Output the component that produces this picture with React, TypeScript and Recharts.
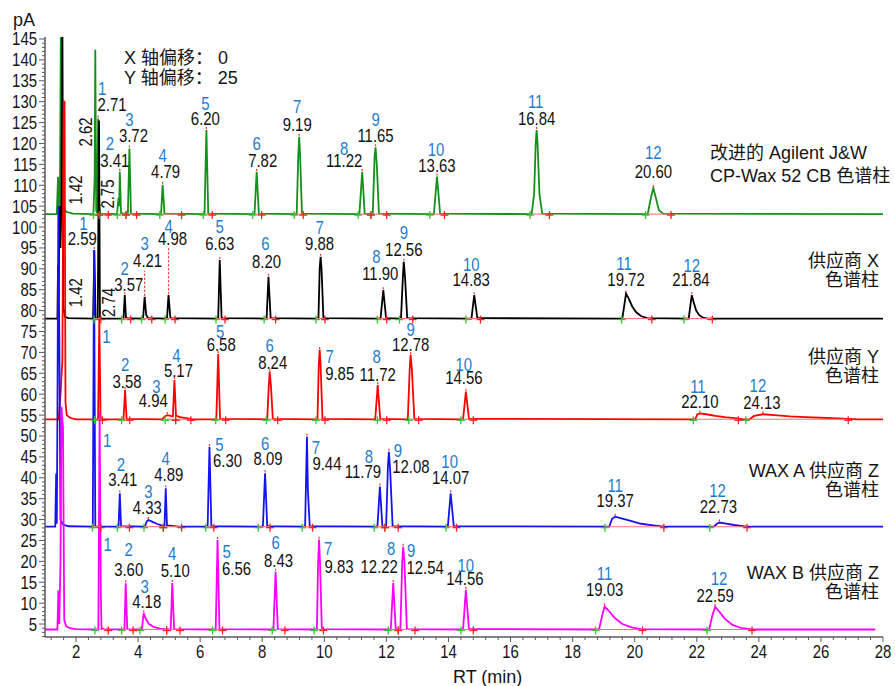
import React from 'react'
import {
  ComposedChart,
  Line,
  Scatter,
  XAxis,
  YAxis,
  ReferenceLine,
} from 'recharts'

// [retention time (min), signal (pA)]
type Pt = [number, number]
// [peak no, rt, text dx, text dy, number dx, number dy, stem px]
type Tag = [number, number, number | null, number | null, number, number, number?]
// [rt, dx, dy] rotated retention time labels
type VTag = [number, number, number]

const W = 895
const H = 686
const Y_OFFSET = 25
const FONT = "'Liberation Sans', Arial, 'Noto Sans CJK SC', sans-serif"
// narrow the Latin glyphs a little, the instrument font is condensed
const SX = 0.83
const AXIS = '#5a5a5a'
const NUM_BLUE = '#1f7ccc'

// ---- raw detector signal, one array per column ----

const agilentTrace: Pt[] = [
  [1.0, 3.1], [1.38, 3.1], [1.42, 12], [1.45, 4], [1.48, 6], [1.52, 60], [1.55, 10],
  [1.6, 4.5], [1.7, 3.6], [1.9, 3.2],
  [2.56, 3.1], [2.6, 12], [2.62, 42.4], [2.65, 4], [2.68, 3.3], [2.71, 26.0],
  [2.73, 5], [2.75, 5.5], [2.78, 3.2],
  [3.32, 3.1], [3.37, 7], [3.39, 5], [3.41, 13.2], [3.45, 3.3],
  [3.67, 3.1], [3.72, 18.8], [3.77, 3.2],
  [4.74, 3.1], [4.79, 10.1], [4.85, 3.2],
  [6.14, 3.1], [6.2, 23.2], [6.26, 3.2],
  [7.75, 3.1], [7.82, 13.2], [7.89, 3.2],
  [9.11, 3.1], [9.16, 17], [9.19, 21.6], [9.22, 17], [9.28, 3.2],
  [11.13, 3.1], [11.22, 13.2], [11.3, 3.2],
  [11.56, 3.1], [11.62, 17], [11.65, 19.1], [11.69, 15], [11.76, 3.2],
  [13.53, 3.1], [13.63, 12.1], [13.73, 3.2],
  [16.68, 3.1], [16.76, 8], [16.81, 20], [16.84, 23.2], [16.87, 20], [16.93, 8], [17.02, 3.2],
  [20.42, 3.1], [20.52, 7], [20.6, 9.3], [20.68, 7], [20.78, 4], [20.92, 3.2],
  [28.0, 3.1],
]

const vendorXTrace: Pt[] = [
  [1.0, 3.1], [1.4, 3.1], [1.42, 16], [1.44, 8], [1.47, 30], [1.5, 20], [1.53, 32],
  [1.56, 75], [1.59, 6], [1.64, 3.5], [1.75, 3.2],
  [2.55, 3.1], [2.59, 19.5], [2.63, 3.1],
  [2.7, 3.1], [2.74, 50.5], [2.77, 3.5], [2.8, 3.1],
  [3.53, 3.1], [3.57, 8.7], [3.61, 3.2],
  [4.16, 3.1], [4.21, 8.3], [4.26, 4], [4.32, 3.2],
  [4.93, 3.1], [4.98, 8.7], [5.04, 3.2],
  [6.58, 3.1], [6.63, 17.1], [6.69, 3.2],
  [8.14, 3.1], [8.2, 13.1], [8.27, 3.2],
  [9.81, 3.1], [9.85, 15], [9.88, 17.9], [9.91, 15], [9.97, 3.2],
  [11.81, 3.1], [11.9, 9.9], [11.99, 3.2],
  [12.47, 3.1], [12.53, 13], [12.56, 16.7], [12.6, 13], [12.67, 3.2],
  [14.74, 3.1], [14.83, 8.7], [14.93, 3.2],
  [19.6, 3.1], [19.66, 6], [19.72, 9.1], [19.8, 8], [19.92, 6], [20.05, 4.6], [20.2, 3.7], [20.4, 3.2],
  [21.74, 3.1], [21.79, 6], [21.84, 8.7], [21.9, 7], [21.98, 5], [22.08, 3.9], [22.2, 3.3], [22.35, 3.1],
  [28.0, 3.1],
]

const vendorYTrace: Pt[] = [
  [1.0, 4.0], [1.44, 4.0], [1.5, 10], [1.56, 18], [1.6, 80], [1.63, 80], [1.66, 8],
  [1.7, 5], [1.82, 4.3], [2.0, 4.0],
  [2.71, 4.0], [2.75, 28], [2.79, 4.3], [2.85, 4.0],
  [3.53, 4.0], [3.58, 11], [3.63, 4.1],
  [4.78, 4.0], [4.85, 4.6], [4.94, 5.0], [5.05, 4.8], [5.12, 4.7], [5.17, 13.4], [5.22, 4.9],
  [5.35, 4.5], [5.6, 4.2], [5.75, 4.0],
  [6.52, 4.0], [6.58, 19.6], [6.64, 4.1],
  [8.16, 4.0], [8.21, 12], [8.24, 15.4], [8.28, 12], [8.34, 4.1],
  [9.78, 4.0], [9.82, 17], [9.85, 20.6], [9.88, 17], [9.94, 4.1],
  [11.64, 4.0], [11.72, 12.2], [11.8, 4.1],
  [12.69, 4.0], [12.75, 16], [12.78, 19.4], [12.82, 16], [12.9, 4.1],
  [14.47, 4.0], [14.56, 10.6], [14.66, 4.1],
  [21.95, 4.0], [22.02, 5.2], [22.1, 5.4], [22.3, 5.2], [22.6, 4.8], [22.9, 4.5], [23.3, 4.2], [23.5, 4.0],
  [23.7, 4.0], [23.85, 4.8], [24.13, 5.2], [24.5, 5.0], [25.0, 4.7], [25.5, 4.5], [26.2, 4.3],
  [26.9, 4.1], [27.2, 4.0],
  [28.0, 4.0],
]

const waxATrace: Pt[] = [
  [1.0, 3.3], [1.33, 3.3], [1.36, 16], [1.38, 4], [1.4, 30], [1.43, 80], [1.47, 40],
  [1.5, 5], [1.58, 3.8], [1.75, 3.4],
  [2.54, 3.3], [2.58, 69.5], [2.62, 3.5], [2.66, 3.3],
  [3.37, 3.3], [3.41, 11.3], [3.45, 3.4],
  [4.22, 3.3], [4.28, 4.6], [4.33, 4.9], [4.45, 4.5], [4.6, 4.0], [4.75, 3.6], [4.84, 3.4],
  [4.85, 3.4], [4.89, 12.5], [4.93, 3.6], [5.1, 3.5], [5.3, 3.3],
  [6.24, 3.3], [6.3, 22.4], [6.36, 3.4],
  [8.02, 3.3], [8.09, 16.1], [8.16, 3.4],
  [9.38, 3.3], [9.41, 14], [9.44, 24.8], [9.47, 12], [9.53, 3.4],
  [11.71, 3.3], [11.79, 12.9], [11.87, 3.4],
  [11.99, 3.3], [12.05, 18], [12.08, 21.2], [12.12, 17], [12.2, 3.4],
  [13.98, 3.3], [14.07, 11.3], [14.17, 3.4],
  [19.18, 3.3], [19.27, 5.2], [19.37, 5.7], [19.6, 5.2], [19.9, 4.6], [20.2, 4.0], [20.6, 3.6], [20.95, 3.3],
  [22.55, 3.3], [22.65, 4.0], [22.73, 4.3], [22.9, 4.1], [23.2, 3.7], [23.6, 3.3],
  [28.0, 3.3],
]

const waxBTrace: Pt[] = [
  [1.0, 3.7], [1.4, 3.7], [1.43, 13], [1.46, 5], [1.5, 20], [1.53, 57], [1.58, 52],
  [1.62, 6], [1.68, 4.5], [1.8, 4.0], [2.0, 3.8],
  [2.72, 3.7], [2.76, 56], [2.8, 12], [2.82, 4.0], [2.9, 3.8],
  [3.56, 3.7], [3.6, 14.75], [3.65, 3.8],
  [4.12, 3.7], [4.18, 7.6], [4.25, 6.2], [4.35, 5.0], [4.5, 4.3], [4.7, 3.9], [4.9, 3.7],
  [5.05, 3.7], [5.1, 14.8], [5.16, 3.8],
  [6.5, 3.7], [6.56, 25.1], [6.62, 3.8],
  [8.36, 3.7], [8.43, 17.5], [8.5, 3.8],
  [9.76, 3.7], [9.8, 20], [9.83, 25.2], [9.86, 20], [9.92, 3.8],
  [12.14, 3.7], [12.22, 14.8], [12.3, 3.8],
  [12.45, 3.7], [12.51, 20], [12.54, 23.5], [12.58, 20], [12.66, 3.8],
  [14.47, 3.7], [14.56, 13.2], [14.66, 3.8],
  [18.85, 3.7], [18.95, 7], [19.03, 9.2], [19.15, 8.3], [19.35, 6.5], [19.6, 5.0], [19.9, 4.2], [20.2, 3.8],
  [22.4, 3.7], [22.5, 7], [22.59, 9.1], [22.7, 8.2], [22.9, 6.3], [23.15, 4.8], [23.45, 4.0], [23.8, 3.7],
  [27.75, 3.7],
]

// ---- integration start / end marks ----

const agilentMarks: Pt[] = [
  [2.56, 2.75], [2.75, 3.04], [3.33, 3.61], [3.61, 3.95], [4.7, 5.4], [6.1, 6.39],
  [7.69, 7.98], [9.03, 9.32], [11.09, 11.5], [11.5, 12.01], [13.4, 13.87],
  [16.63, 17.25], [20.35, 21.17],
]
const vendorXMarks: Pt[] = [
  [2.58, 2.8], [3.47, 3.76], [4.11, 4.44], [4.87, 5.19], [6.51, 6.8], [8.06, 8.43],
  [9.73, 10.02], [11.71, 12.01], [12.42, 12.85], [14.56, 15.03], [19.58, 20.55],
  [21.59, 22.5],
]
const vendorYMarks: Pt[] = [
  [2.6, 2.85], [3.47, 3.73], [4.87, 5.21], [5.21, 5.7], [6.5, 6.82], [8.13, 8.5],
  [9.73, 10.02], [11.71, 12.01], [12.72, 13.04], [14.4, 14.8], [21.89, 23.34],
  [23.58, 26.88],
]
const waxAMarks: Pt[] = [
  [2.53, 2.8], [3.33, 3.72], [4.19, 4.81], [4.81, 5.4], [6.18, 6.44], [7.87, 8.25],
  [9.29, 9.62], [11.61, 11.95], [11.95, 12.38], [13.92, 14.26], [19.04, 20.94],
  [22.42, 23.62],
]
const waxBMarks: Pt[] = [
  [2.61, 3.04], [3.47, 3.84], [4.06, 4.92], [4.92, 5.35], [6.4, 6.72], [8.32, 8.73],
  [9.67, 9.97], [12.06, 12.38], [12.38, 12.92], [14.4, 14.8], [18.74, 20.25],
  [22.33, 23.78],
]

// ---- peak labels ----

const agilentTags: Tag[] = [
  [1, 2.71, 14, -7, 4, -23], [2, 3.41, -5, -5, -10, -22], [3, 3.72, 4, -6, 0, -22],
  [4, 4.79, 3, -7, 0, -23], [5, 6.2, -1, -5, -1, -20], [6, 7.82, 6, -5, 0, -22],
  [7, 9.19, -2, -6, -2, -24], [8, 11.22, -18, -5, -18, -17], [9, 11.65, 0, -5, 0, -21],
  [10, 13.63, 0, -4, -1, -20], [11, 16.84, 0, -5, -1, -22], [12, 20.6, 0, -10, 0, -29],
]
const vendorXTags: Tag[] = [
  [1, 2.59, -12, -5, -11, -20], [2, 3.57, 4, -4, 0, -20], [3, 4.21, 3, -30, 0, -47, 26],
  [4, 4.98, 4, -50, 0, -62, 47], [5, 6.63, 0, -10, 0, -27], [6, 8.2, -2, -9, -3, -27],
  [7, 9.88, -1, -7, -1, -23], [8, 11.9, -3, -10, -7, -27], [9, 12.56, 0, -6, 0, -23],
  [10, 14.83, -3, -9, -3, -24], [11, 19.72, 0, -7, -2, -23], [12, 21.84, -1, -9, 0, -23],
]
const vendorYTags: Tag[] = [
  [1, 2.75, null, null, 7, 24, 0], [2, 3.58, 2, -2, 0, -19], [3, 4.94, -14, -8, -11, -22],
  [4, 5.17, 4, -3, 2, -18], [5, 6.58, 3, -3, 2, -16], [6, 8.24, 3, -3, 0, -20],
  [7, 9.85, 20, 30, 10, 13], [8, 11.72, 0, -4, -1, -22], [9, 12.78, 0, -4, 0, -19],
  [10, 14.56, -2, -8, -2, -21], [11, 22.1, 0, -5, -2, -20], [12, 24.13, -1, -5, -5, -22],
]
const waxATags: Tag[] = [
  [1, 2.58, null, null, 13, 197, 0], [2, 3.41, 3, -7, 1, -22], [3, 4.33, -1, -6, 0, -22],
  [4, 4.89, 3, -7, 0, -23], [5, 6.3, 18, 20, 10, 4], [6, 8.09, 3, -8, 0, -23],
  [7, 9.44, 20, 33, 9, 17], [8, 11.79, -17, -9, -11, -24], [9, 12.08, 22, 21, 9, 5],
  [10, 14.07, 0, -9, -1, -25], [11, 19.37, 0, -10, 0, -25], [12, 22.73, -1, -9, -2, -25],
]
const waxBTags: Tag[] = [
  [1, 2.76, null, null, 8, 140, 0], [2, 3.6, 3, -7, 3, -27], [3, 4.18, 3, -5, 1, -20],
  [4, 5.1, 3, -6, 0, -23], [5, 6.56, 19, 35, 9, 18], [6, 8.43, 3, -5, 0, -23],
  [7, 9.83, 20, 33, 9, 15], [8, 12.22, -14, -10, -2, -28], [9, 12.54, 22, 27, 8, 10],
  [10, 14.56, -1, -5, 0, -18], [11, 19.03, 0, -10, 0, -26], [12, 22.59, 0, -5, 4, -22],
]

const agilentVTags: VTag[] = [[1.42, 18, 13], [2.62, -9, 82], [2.75, 9, -10]]
const vendorXVTags: VTag[] = [[1.42, 18, 28], [2.74, 10, 182]]

// axis ticks
const yMajor = [5, 10, 15, 20, 25, 30, 35, 40, 45, 50, 55, 60, 65, 70, 75, 80, 85, 90, 95,
  100, 105, 110, 115, 120, 125, 130, 135, 140, 145]
const xMajor = [2, 4, 6, 8, 10, 12, 14, 16, 18, 20, 22, 24, 26, 28]

const yTicks: number[] = []
for (let v = 2; v <= 145; v++) yTicks.push(v)
const xTicks: number[] = []
for (let k = 12; k <= 280; k += 4) xTicks.push(k / 10)

interface Series {
  key: string
  color: string
  offset: number
  points: Pt[]
  tags: Tag[]
  vtags: VTag[]
  marks: Pt[]
}

const series: Series[] = [
  { key: 'agilent', color: '#14911a', offset: 4 * Y_OFFSET, points: agilentTrace, tags: agilentTags, vtags: agilentVTags, marks: agilentMarks },
  { key: 'vendorX', color: '#000000', offset: 3 * Y_OFFSET, points: vendorXTrace, tags: vendorXTags, vtags: vendorXVTags, marks: vendorXMarks },
  { key: 'vendorY', color: '#ff0000', offset: 2 * Y_OFFSET, points: vendorYTrace, tags: vendorYTags, vtags: [], marks: vendorYMarks },
  { key: 'waxA', color: '#1414f0', offset: 1 * Y_OFFSET, points: waxATrace, tags: waxATags, vtags: [], marks: waxAMarks },
  { key: 'waxB', color: '#ff00ff', offset: 0, points: waxBTrace, tags: waxBTags, vtags: [], marks: waxBMarks },
]

const apexOf = (points: Pt[], rt: number) => {
  const p = points.find(([t]) => Math.abs(t - rt) < 1e-9)
  return p ? p[1] : points[0][1]
}

// condensed svg text anchored at (x, y)
const Txt = ({
  x,
  y,
  anchor = 'middle',
  fill = '#111',
  rotate = 0,
  baseline,
  children,
}: {
  x: number
  y: number
  anchor?: 'start' | 'middle' | 'end'
  fill?: string
  rotate?: number
  baseline?: string
  children: React.ReactNode
}) => (
  <text
    transform={`translate(${x} ${y}) rotate(${rotate}) scale(${SX} 1)`}
    x={0}
    y={0}
    textAnchor={anchor}
    dominantBaseline={baseline as any}
    fontFamily={FONT}
    fontSize={18}
    fill={fill}
  >
    {children}
  </text>
)

const YTick = (props: any) => {
  const { x, y, payload } = props
  const major = yMajor.includes(payload.value)
  return (
    <g>
      <line x1={x - (major ? 6 : 3)} x2={x} y1={y} y2={y} stroke={AXIS} strokeWidth={1} />
      {major && (
        <Txt x={x - 8} y={y + 6.5} anchor='end' fill='#151515'>
          {payload.value}
        </Txt>
      )}
    </g>
  )
}

const XTick = (props: any) => {
  const { x, y, payload } = props
  const major = xMajor.some((m) => Math.abs(m - payload.value) < 1e-6)
  return (
    <g>
      <line x1={x} x2={x} y1={y} y2={y + (major ? 5 : 3)} stroke={AXIS} strokeWidth={1} />
      {major && (
        <Txt x={x} y={y + 21} fill='#151515'>
          {Math.round(payload.value)}
        </Txt>
      )}
    </g>
  )
}

const Cross = ({ cx, cy, color }: { cx: number; cy: number; color: string }) => (
  <g stroke={color} strokeWidth={1.3}>
    <line x1={cx - 4} x2={cx + 4} y1={cy + 1} y2={cy + 1} />
    <line x1={cx} x2={cx} y1={cy - 3} y2={cy + 5} />
  </g>
)

const PeakTag = (props: any) => {
  const { cx, cy, payload } = props
  const { no, rt, tdx, tdy, ndx, ndy, stem } = payload
  return (
    <g>
      {stem > 0 && (
        <line x1={cx} x2={cx} y1={cy - 1} y2={cy - stem} stroke='#ff3030' strokeWidth={1.2} strokeDasharray='2 2' />
      )}
      <Txt x={cx + ndx} y={cy + ndy} fill={NUM_BLUE}>
        {no}
      </Txt>
      {tdx !== null && (
        <Txt x={cx + tdx} y={cy + tdy}>
          {rt.toFixed(2)}
        </Txt>
      )}
    </g>
  )
}

const RotatedTag = (props: any) => {
  const { cx, cy, payload } = props
  return (
    <Txt x={cx + payload.dx} y={cy + payload.dy} rotate={-90} baseline='central'>
      {payload.rt.toFixed(2)}
    </Txt>
  )
}

const textStyle: React.CSSProperties = {
  position: 'absolute',
  fontFamily: FONT,
  fontSize: 18,
  color: '#151515',
  whiteSpace: 'nowrap',
}

export default function App() {
  return (
    <div style={{ position: 'absolute', left: 0, top: 0, width: W, height: H, background: '#fff' }}>
      <ComposedChart width={W} height={H} margin={{ top: 36.9, right: 12, bottom: 0, left: 0 }}>
        <XAxis
          type='number'
          dataKey='t'
          domain={[1, 28]}
          allowDataOverflow
          ticks={xTicks}
          interval={0}
          tick={(p: any) => <XTick {...p} />}
          tickLine={false}
          tickSize={0}
          tickMargin={0}
          height={49}
          axisLine={{ stroke: AXIS, strokeWidth: 1.5 }}
        />
        <YAxis
          type='number'
          dataKey='v'
          domain={[1.9, 145.5]}
          allowDataOverflow
          ticks={yTicks}
          interval={0}
          tick={(p: any) => <YTick {...p} />}
          tickLine={false}
          tickSize={0}
          tickMargin={0}
          width={45}
          axisLine={{ stroke: AXIS, strokeWidth: 1.5 }}
        />

        {series.map((s) => (
          <Line
            key={s.key}
            data={s.points.map(([t, v]) => ({ t, v: v + s.offset }))}
            dataKey='v'
            type='linear'
            stroke={s.color}
            strokeWidth={1.8}
            dot={false}
            activeDot={false}
            isAnimationActive={false}
          />
        ))}

        {series.flatMap((s) =>
          s.marks.map(([a, b], i) => (
            <ReferenceLine
              key={`${s.key}-seg-${i}`}
              segment={[
                { x: a, y: s.points[0][1] + s.offset },
                { x: b, y: s.points[0][1] + s.offset },
              ]}
              stroke='#ff7070'
              strokeWidth={1.1}
            />
          ))
        )}

        {series.map((s) => (
          <Scatter
            key={`${s.key}-start`}
            data={s.marks.map(([a]) => ({ t: a, v: s.points[0][1] + s.offset }))}
            dataKey='v'
            isAnimationActive={false}
            shape={(p: any) => <Cross cx={p.cx} cy={p.cy} color='#35c435' />}
          />
        ))}
        {series.map((s) => (
          <Scatter
            key={`${s.key}-end`}
            data={s.marks.map(([, b]) => ({ t: b, v: s.points[0][1] + s.offset }))}
            dataKey='v'
            isAnimationActive={false}
            shape={(p: any) => <Cross cx={p.cx} cy={p.cy} color='#ff2020' />}
          />
        ))}

        {series.map((s) => (
          <Scatter
            key={`${s.key}-tags`}
            data={s.tags.map(([no, rt, tdx, tdy, ndx, ndy, stem]) => ({
              t: rt,
              v: apexOf(s.points, rt) + s.offset,
              no,
              rt,
              tdx,
              tdy,
              ndx,
              ndy,
              stem: stem === undefined ? 5 : stem,
            }))}
            dataKey='v'
            isAnimationActive={false}
            shape={(p: any) => <PeakTag {...p} />}
          />
        ))}
        {series.map((s) => (
          <Scatter
            key={`${s.key}-vtags`}
            data={s.vtags.map(([rt, dx, dy]) => ({
              t: rt,
              v: apexOf(s.points, rt) + s.offset,
              rt,
              dx,
              dy,
            }))}
            dataKey='v'
            isAnimationActive={false}
            shape={(p: any) => <RotatedTag {...p} />}
          />
        ))}
      </ComposedChart>

      <div style={{ ...textStyle, left: 13, top: 9, lineHeight: '22px' }}>pA</div>
      <div style={{ ...textStyle, left: 124, top: 48, lineHeight: '20px' }}>
        X 轴偏移： 0<br />Y 轴偏移： 25
      </div>
      <div style={{ ...textStyle, left: 710, top: 142, lineHeight: '23px' }}>
        改进的 Agilent J&amp;W<br />CP-Wax 52 CB 色谱柱
      </div>
      <div style={{ ...textStyle, right: 16, top: 252, lineHeight: '19px', textAlign: 'right' }}>
        供应商 X<br />色谱柱
      </div>
      <div style={{ ...textStyle, right: 16, top: 348, lineHeight: '19px', textAlign: 'right' }}>
        供应商 Y<br />色谱柱
      </div>
      <div style={{ ...textStyle, right: 16, top: 462, lineHeight: '19px', textAlign: 'right' }}>
        WAX A 供应商 Z<br />色谱柱
      </div>
      <div style={{ ...textStyle, right: 16, top: 564, lineHeight: '19px', textAlign: 'right' }}>
        WAX B 供应商 Z<br />色谱柱
      </div>
      <div style={{ ...textStyle, left: 453, top: 666, lineHeight: '22px' }}>RT (min)</div>
    </div>
  )
}
